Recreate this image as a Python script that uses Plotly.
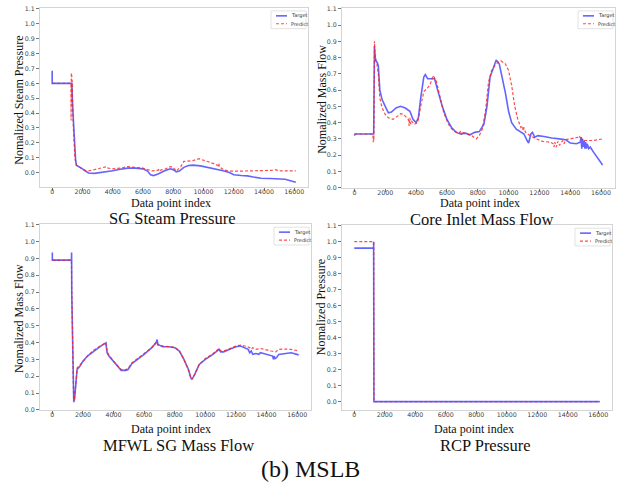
import plotly.graph_objects as go

# ---------------- data ----------------
# SG Steam Pressure
sg_target_x = [0, 0, 20, 1260, 1300, 1350, 1450, 1550, 1600, 1800, 2000, 2200, 2400, 2800, 3200, 3600, 4000,
               4500, 5000, 5500, 6000, 6300, 6500, 6700, 7000, 7400, 7800, 8000, 8200, 8400, 8700, 9000,
               9300, 9800, 10300, 10800, 11300, 11700, 12000, 12500, 12900, 13300, 13800, 14400, 15000,
               15400, 15800, 16100]
sg_target_y = [0.685, 0.60, 0.60, 0.60, 0.60, 0.45, 0.25, 0.08, 0.05, 0.04, 0.025, 0.01, -0.003, -0.005, 0.0,
               0.005, 0.012, 0.022, 0.03, 0.03, 0.025, 0.01, -0.015, -0.02, -0.01, 0.01, 0.025, 0.02, 0.005,
               0.01, 0.035, 0.048, 0.05, 0.045, 0.035, 0.025, 0.012, 0.0, -0.015, -0.02, -0.022, -0.03,
               -0.038, -0.04, -0.04, -0.045, -0.056, -0.065]
sg_pred_x = [0, 1240, 1250, 1265, 1280, 1295, 1310, 1325, 1340, 1400, 1500, 1600, 1800, 2000, 2200, 2400,
             2800, 3200, 3500, 3600, 3700, 4000, 4500, 5000, 5500, 6000, 6300, 6600, 7000, 7050, 7100, 7500,
             7800, 8000, 8200, 8500, 8700, 9000, 9300, 9700, 10000, 10400, 10800, 11000, 11020, 11040,
             11300, 11700, 12500, 13000, 13500, 14500, 14700, 15000, 16100]
sg_pred_y = [0.60, 0.60, 0.35, 0.67, 0.40, 0.65, 0.45, 0.62, 0.50, 0.30, 0.10, 0.05, 0.035, 0.025, 0.015,
             0.012, 0.02, 0.028, 0.035, 0.04, 0.03, 0.025, 0.03, 0.04, 0.035, 0.03, 0.02, 0.012, 0.015, 0.025,
             0.015, 0.025, 0.04, 0.035, 0.01, 0.04, 0.075, 0.08, 0.08, 0.093, 0.085, 0.07, 0.055, 0.045, 0.06,
             0.04, 0.02, 0.01, 0.01, 0.012, 0.01, 0.015, 0.02, 0.012, 0.012]

# Core Inlet Mass Flow
ci_target_x = [0, 50, 1250, 1280, 1300, 1350, 1400, 1480, 1550, 1650, 1800, 2000, 2200, 2400, 2700, 3000,
               3300, 3600, 3800, 4000, 4150, 4300, 4500, 4600, 4750, 5000, 5200, 5400, 5700, 6000, 6300,
               6600, 6900, 7200, 7500, 7800, 8100, 8400, 8600, 8800, 9000, 9200, 9400, 9600, 9800, 10000,
               10200, 10500, 10800, 11000, 11200, 11300, 11450, 11550, 11700, 11900, 12300, 12800, 13300,
               13700, 14000, 14400, 14650, 14700, 14750, 14800, 14850, 14900, 14950, 15000, 15050, 15100,
               15200, 15300, 15500, 15800, 16100]
ci_target_y = [0.32, 0.33, 0.33, 0.60, 0.87, 0.80, 0.78, 0.77, 0.75, 0.60, 0.54, 0.50, 0.46, 0.465, 0.49,
               0.50, 0.49, 0.47, 0.42, 0.40, 0.43, 0.55, 0.68, 0.695, 0.67, 0.67, 0.67, 0.60, 0.50, 0.42,
               0.37, 0.34, 0.33, 0.335, 0.325, 0.34, 0.345, 0.39, 0.50, 0.68, 0.74, 0.785, 0.76, 0.68, 0.58,
               0.47, 0.40, 0.36, 0.345, 0.33, 0.29, 0.275, 0.33, 0.34, 0.31, 0.32, 0.315, 0.305, 0.30, 0.295,
               0.275, 0.27, 0.28, 0.31, 0.24, 0.30, 0.25, 0.29, 0.24, 0.28, 0.24, 0.27, 0.24, 0.25, 0.22,
               0.18, 0.14]
ci_pred_x = [0, 1200, 1220, 1240, 1260, 1280, 1300, 1330, 1380, 1450, 1550, 1650, 1800, 2000, 2200, 2500,
             2800, 3000, 3200, 3400, 3500, 3550, 3600, 3650, 3700, 3900, 4100, 4300, 4500, 4700, 4900, 5100,
             5300, 5500, 5800, 6100, 6400, 6800, 6900, 6950, 7000, 7300, 7600, 7900, 8100, 8300, 8500, 8700,
             8900, 9100, 9300, 9500, 9800, 10000, 10200, 10400, 10600, 10800, 10900, 10950, 11000, 11100,
             11400, 11800, 12200, 12700, 12900, 12950, 13000, 13100, 13200, 13300, 13500, 13600, 13700,
             14000, 14500, 14600, 14650, 14700, 14800, 15000, 15500, 16100]
ci_pred_y = [0.33, 0.33, 0.28, 0.32, 0.29, 0.50, 0.90, 0.82, 0.78, 0.77, 0.70, 0.55, 0.49, 0.45, 0.43, 0.42,
             0.44, 0.455, 0.45, 0.43, 0.42, 0.38, 0.43, 0.39, 0.41, 0.39, 0.40, 0.50, 0.59, 0.61, 0.63, 0.69,
             0.66, 0.58, 0.46, 0.39, 0.35, 0.335, 0.35, 0.325, 0.34, 0.33, 0.32, 0.30, 0.32, 0.36, 0.47,
             0.65, 0.72, 0.75, 0.77, 0.78, 0.76, 0.72, 0.63, 0.50, 0.42, 0.37, 0.38, 0.35, 0.37, 0.34, 0.32,
             0.30, 0.285, 0.28, 0.27, 0.25, 0.28, 0.25, 0.285, 0.26, 0.29, 0.27, 0.295, 0.30, 0.31, 0.32,
             0.305, 0.315, 0.29, 0.29, 0.29, 0.30]

# MFWL SG Mass Flow
mf_target_x = [0, 0, 1250, 1260, 1270, 1320, 1380, 1400, 1450, 1550, 1620, 1800, 2000, 2300, 2700, 3100,
               3500, 3580, 3700, 4000, 4300, 4500, 4800, 4950, 5200, 5500, 6000, 6500, 6800, 6850, 6900,
               7000, 7200, 7600, 8000, 8300, 8600, 8900, 9050, 9150, 9300, 9600, 10000, 10500, 10800, 10900,
               11000, 11200, 11600, 12000, 12300, 12600, 12800, 12900, 13000, 13100, 13300, 13500, 13600,
               13800, 14200, 14400, 14450, 14500, 14550, 14650, 14800, 15200, 15600, 16100]
mf_target_y = [0.935, 0.89, 0.89, 0.935, 0.70, 0.35, 0.08, 0.05, 0.06, 0.20, 0.24, 0.26, 0.29, 0.32, 0.35,
               0.375, 0.398, 0.34, 0.32, 0.29, 0.255, 0.235, 0.235, 0.24, 0.275, 0.295, 0.33, 0.37, 0.40,
               0.418, 0.39, 0.385, 0.375, 0.375, 0.37, 0.35, 0.30, 0.24, 0.19, 0.185, 0.21, 0.27, 0.30, 0.33,
               0.355, 0.36, 0.345, 0.345, 0.36, 0.375, 0.38, 0.37, 0.36, 0.34, 0.35, 0.33, 0.335, 0.33, 0.34,
               0.335, 0.325, 0.32, 0.30, 0.32, 0.305, 0.31, 0.33, 0.335, 0.34, 0.327]
mf_pred_x = [0, 1250, 1270, 1330, 1400, 1460, 1550, 1620, 1800, 2000, 2300, 2700, 3100, 3500, 3580, 3700,
             4000, 4300, 4500, 4800, 4950, 5200, 5500, 6000, 6500, 6800, 6900, 7200, 7600, 8000, 8300, 8600,
             8900, 9100, 9300, 9600, 10000, 10500, 10900, 11000, 11200, 11600, 12000, 12300, 12600, 12900,
             13000, 13100, 13300, 13600, 14000, 14300, 14600, 14800, 15200, 15600, 16100]
mf_pred_y = [0.89, 0.89, 0.70, 0.30, 0.045, 0.08, 0.21, 0.25, 0.265, 0.29, 0.32, 0.355, 0.38, 0.40, 0.35,
             0.325, 0.29, 0.26, 0.24, 0.24, 0.245, 0.28, 0.30, 0.335, 0.37, 0.405, 0.385, 0.38, 0.378,
             0.372, 0.352, 0.30, 0.235, 0.18, 0.21, 0.27, 0.305, 0.335, 0.365, 0.35, 0.35, 0.365, 0.38,
             0.385, 0.38, 0.37, 0.36, 0.37, 0.36, 0.365, 0.355, 0.35, 0.345, 0.36, 0.362, 0.36, 0.35]

# RCP Pressure
rcp_target_x = [0, 1270, 1270, 1290, 16100]
rcp_target_y = [0.96, 0.96, 1.0, 0.0, 0.0]
rcp_pred_x = [0, 1280, 1290, 16100]
rcp_pred_y = [1.0, 1.0, 0.0, 0.0]

x_tick_vals = [0, 2000, 4000, 6000, 8000, 10000, 12000, 14000, 16000]
y_tick_vals = [0.0, 0.1, 0.2, 0.3, 0.4, 0.5, 0.6, 0.7, 0.8, 0.9, 1.0, 1.1]
y_tick_text = ["0.0", "0.1", "0.2", "0.3", "0.4", "0.5", "0.6", "0.7", "0.8", "0.9", "1.0", "1.1"]
series_names = ["Target", "Predict"]
x_title = "Data point index"

panels = [
    ("SG Steam Pressure", "Nomalized Steam Pressure", sg_target_x, sg_target_y, sg_pred_x, sg_pred_y),
    ("Core Inlet Mass Flow", "Nomalized Mass Flow", ci_target_x, ci_target_y, ci_pred_x, ci_pred_y),
    ("MFWL SG Mass Flow", "Nomalized Mass Flow", mf_target_x, mf_target_y, mf_pred_x, mf_pred_y),
    ("RCP Pressure", "Nomalized Pressure", rcp_target_x, rcp_target_y, rcp_pred_x, rcp_pred_y),
]

# ---------------- layout geometry ----------------
W, H = 623, 488
# pixel boxes (left, right, top, bottom)
boxes = [(40, 308, 5, 186), (342, 615, 5, 187), (40, 311, 224, 412), (342, 612, 225, 412)]
y_ranges = [[-0.095, 1.107], [0, 1.105], [0, 1.103], [-0.052, 1.103]]
x_range = [-805, 16905]
xtitle_pos = [(171, 194), (480, 194), (171, 423.3), (474, 423.3)]   # (center x, top y)
sub_pos = [(172, 208), (482, 208.3), (178, 437), (485.5, 437)]      # (center x, top y)
ytitle_pos = [(19, 99), (322, 98), (19, 320), (321, 308)]

SERIF = "Liberation Serif, Times New Roman, serif"
SANS = "DejaVu Sans, sans-serif"
BLUE = "rgba(40,40,255,0.72)"
RED = "rgba(255,30,30,0.8)"
colors = [BLUE, RED]
dashes = ["solid", "3px,2px"]
widths = [1.6, 1.2]


def px(x):
    return x / W


def py(y):
    return 1 - y / H


fig = go.Figure()
layout = dict(width=W, height=H, margin=dict(l=0, r=0, t=0, b=0), autosize=False,
              paper_bgcolor="white", plot_bgcolor="white", showlegend=False,
              annotations=[], shapes=[])

for i, (sub, ytitle, tx, ty, px_, py_) in enumerate(panels):
    n = "" if i == 0 else str(i + 1)
    xa, ya = "x" + n, "y" + n
    for k, (xs, ys) in enumerate([(tx, ty), (px_, py_)]):
        fig.add_trace(go.Scatter(x=xs, y=ys, mode="lines", name=series_names[k], xaxis=xa, yaxis=ya,
                                 line=dict(color=colors[k], width=widths[k], dash=dashes[k])))
    l, r, t, b = boxes[i]
    axis_common = dict(showgrid=False, zeroline=False, showline=True, mirror=True, linecolor="#d4d4d4",
                       linewidth=1, ticks="outside", ticklen=3, tickcolor="#777", tickwidth=1,
                       tickfont=dict(family=SANS, size=6.3, color="#444"))
    layout["xaxis" + n] = dict(domain=[px(l), px(r)], range=x_range, anchor=ya, tickvals=x_tick_vals,
                               ticktext=[str(v) for v in x_tick_vals], ticklabelstandoff=-4, **axis_common)
    layout["yaxis" + n] = dict(domain=[py(b), py(t)], range=y_ranges[i], anchor=xa,
                               tickvals=y_tick_vals, ticktext=y_tick_text, **axis_common)

    # compact legend box (top-right inside the axes)
    layout["shapes"].append(dict(type="rect", xref="paper", yref="paper", x0=px(r - 37), x1=px(r - 2),
                                 y0=py(t + 21), y1=py(t + 3), line=dict(color="#e2e2e2", width=1),
                                 fillcolor="rgba(255,255,255,0.9)", layer="above"))
    for k in range(2):
        yy = t + 8 + 8 * k
        layout["shapes"].append(dict(type="line", xref="paper", yref="paper", x0=px(r - 32), x1=px(r - 21),
                                     y0=py(yy), y1=py(yy), layer="above",
                                     line=dict(color=colors[k], width=widths[k], dash=dashes[k])))
        layout["annotations"].append(dict(text=series_names[k], x=px(r - 19), y=py(yy), xref="paper",
                                          yref="paper", showarrow=False, xanchor="left", yanchor="middle",
                                          font=dict(family=SANS, size=5, color="#333")))

    ax, ay = xtitle_pos[i]
    layout["annotations"].append(dict(text=x_title, x=px(ax), y=py(ay), xref="paper", yref="paper",
                                      showarrow=False, xanchor="center", yanchor="top", borderpad=0,
                                      font=dict(family=SERIF, size=12, color="#111")))
    sx, sy = sub_pos[i]
    layout["annotations"].append(dict(text=sub, x=px(sx), y=py(sy), xref="paper", yref="paper",
                                      showarrow=False, xanchor="center", yanchor="top", borderpad=0,
                                      font=dict(family=SERIF, size=16.5, color="#111")))
    yx, yy = ytitle_pos[i]
    layout["annotations"].append(dict(text=ytitle, x=px(yx), y=py(yy), xref="paper", yref="paper",
                                      showarrow=False, xanchor="center", yanchor="middle", textangle=-90,
                                      borderpad=0, font=dict(family=SERIF, size=12, color="#111")))

layout["annotations"].append(dict(text="(b) MSLB", x=px(310), y=py(472), xref="paper", yref="paper",
                                  showarrow=False, xanchor="center", yanchor="middle",
                                  font=dict(family=SERIF, size=24, color="#111")))

fig.update_layout(**layout)
fig.write_html("out.html", config={"displayModeBar": False},
               post_script="document.body.style.margin='0';")
